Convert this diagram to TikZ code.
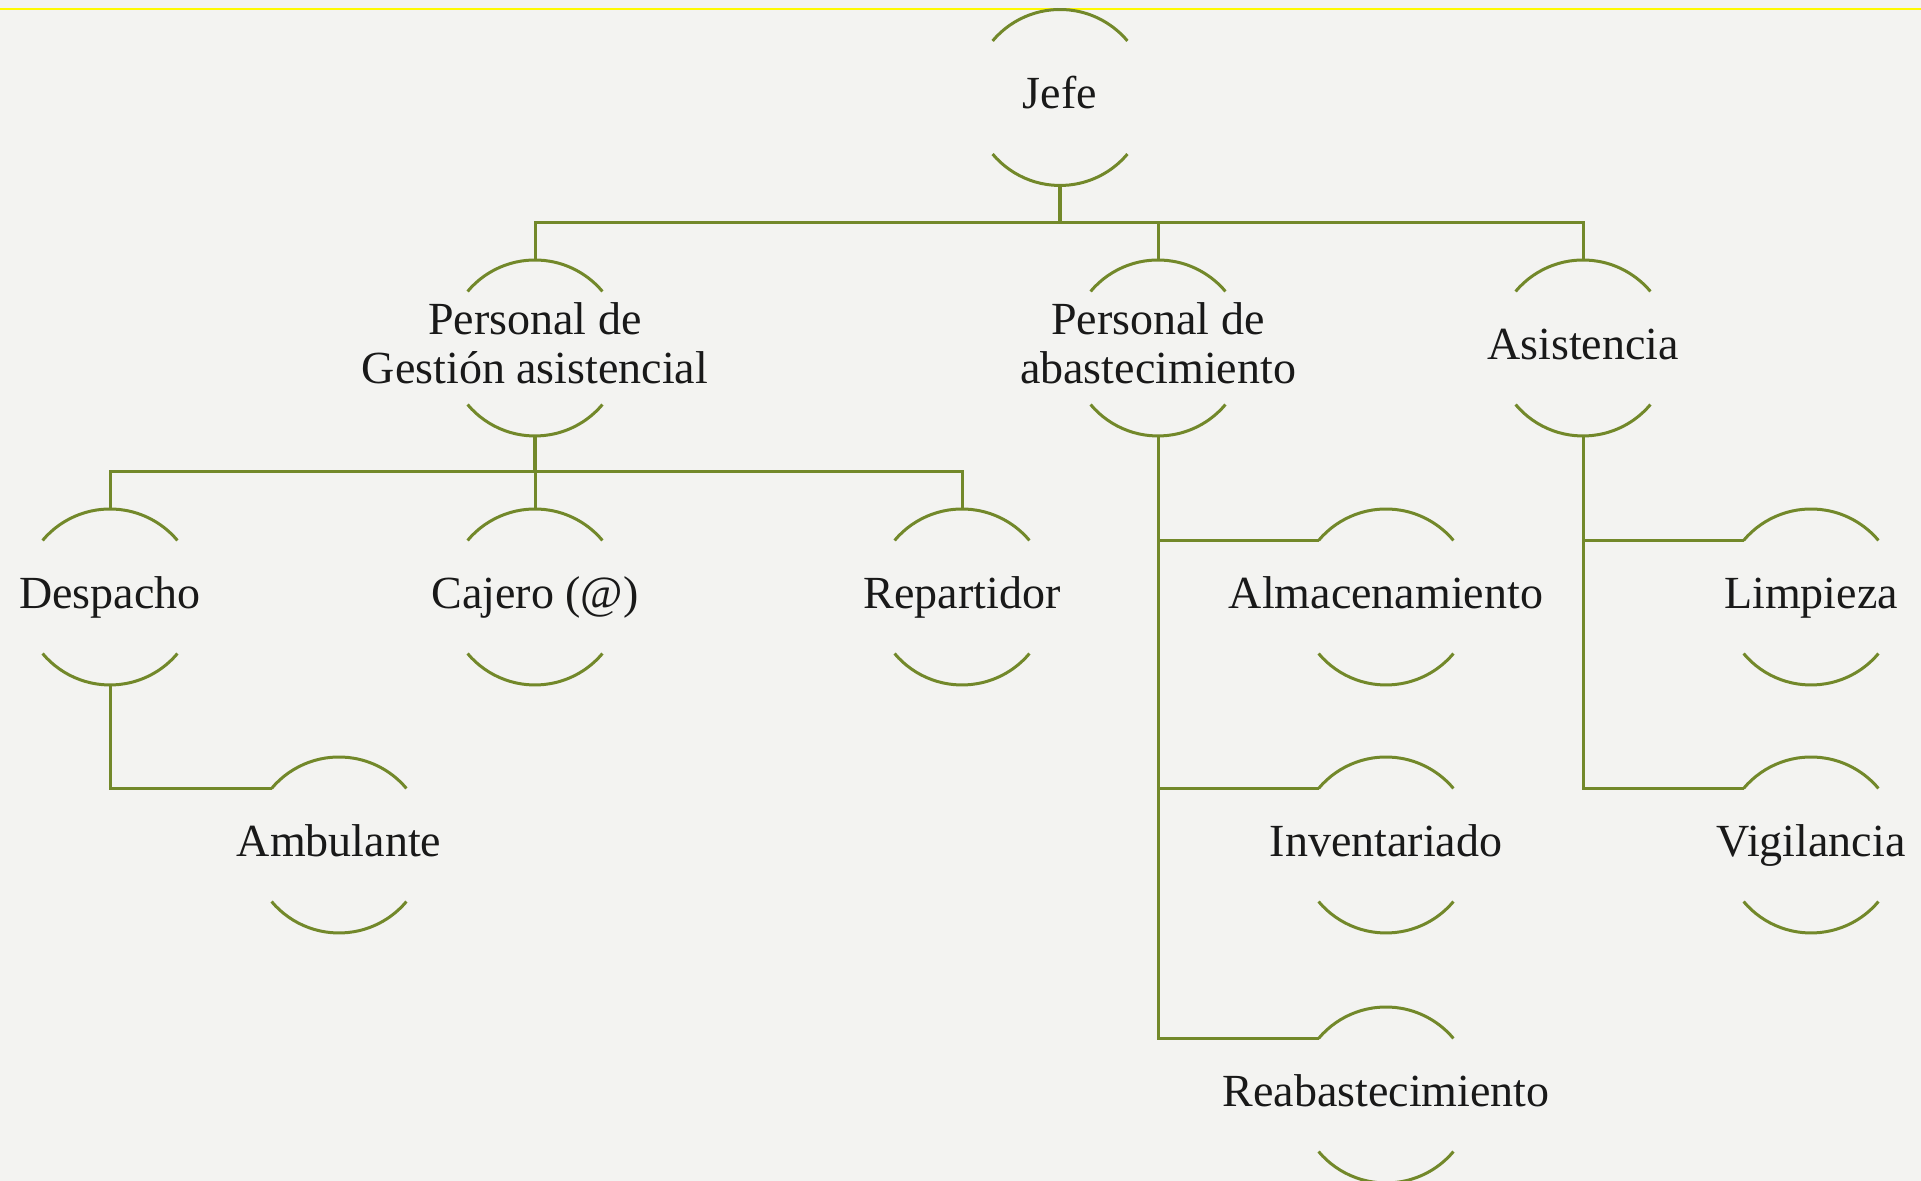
\documentclass[tikz,border=0pt]{standalone}
\usepackage{fontspec}
\setmainfont{Liberation Serif}
\usetikzlibrary{calc}
\definecolor{lineolive}{RGB}{114,136,42}
\definecolor{bgpaper}{RGB}{243,243,241}
\definecolor{textdark}{RGB}{25,25,25}
\definecolor{yellowline}{RGB}{255,250,0}
\begin{document}
\begin{tikzpicture}[x=0.5pt,y=0.5pt,
  ring/.style={circle,minimum size=88pt,inner sep=0pt,outer sep=0pt,draw=none},
  lbl/.style={font=\fontsize{23}{24.5}\selectfont,text=textdark,align=center,inner sep=0pt,anchor=base,yshift=-5.75pt},
  lbltwo/.style={font=\fontsize{23}{24.5}\selectfont,text=textdark,align=center,inner sep=0pt,yshift=2.3pt},
  rim/.style={draw=lineolive,line width=1.5pt},
  link/.style={draw=lineolive,line width=1.5pt}]
\fill[bgpaper] (0,0) rectangle (1921,1181);
\useasboundingbox (0,0) rectangle (1921,1181);
\draw[yellowline,line width=1.3pt] (0,1172) -- (1921,1172);

% nodes
\node[ring] (jefe) at (1060,1083.5) {};
\node[ring] (pga)  at (535,833) {};
\node[ring] (pab)  at (1158,833) {};
\node[ring] (asi)  at (1583,833) {};
\node[ring] (desp) at (110,584) {};
\node[ring] (caj)  at (535,584) {};
\node[ring] (rep)  at (962,584) {};
\node[ring] (amb)  at (339,336) {};
\node[ring] (alm)  at (1386,584) {};
\node[ring] (inv)  at (1386,336) {};
\node[ring] (reab) at (1386,86) {};
\node[ring] (limp) at (1811,584) {};
\node[ring] (vig)  at (1811,336) {};

\node[lbl] (tjefe) at (jefe) {Jefe};
\node[lbltwo] (tpga)  at (pga)  {Personal de\\Gestión asistencial};
\node[lbltwo] (tpab)  at (pab)  {Personal de\\abastecimiento};
\node[lbl] (tasi)  at (asi)  {Asistencia};
\node[lbl] (tdesp) at (desp) {Despacho};
\node[lbl] (tcaj)  at (caj)  {Cajero (@)};
\node[lbl] (trep)  at (rep)  {Repartidor};
\node[lbl] (tamb)  at (amb)  {Ambulante};
\node[lbl] (talm)  at (alm)  {Almacenamiento};
\node[lbl] (tinv)  at (inv)  {Inventariado};
\node[lbl] (treab) at (reab) {Reabastecimiento};
\node[lbl] (tlimp) at (limp) {Limpieza};
\node[lbl] (tvig)  at (vig)  {Vigilancia};

\foreach \n in {jefe,pga,pab,asi,desp,caj,rep,amb,alm,inv,reab,limp,vig} {
  \draw[rim] (\n.140) arc[start angle=140,end angle=40,radius=44pt];
  \draw[rim] (\n.220) arc[start angle=220,end angle=320,radius=44pt];
}

% connectors
\coordinate (bar1) at (0,958);
\coordinate (bar2) at (0,709);
\draw[link] (jefe.south) -- (jefe.south |- bar1) -| (pga.north);
\draw[link] (jefe.south) -- (jefe.south |- bar1) -| (pab.north);
\draw[link] (jefe.south) -- (jefe.south |- bar1) -| (asi.north);
\draw[link,line width=2.2pt] (jefe.south) -- (jefe.south |- bar1);
\draw[link] (pga.south) -- (pga.south |- bar2) -| (desp.north);
\draw[link] (pga.south) -- (pga.south |- bar2) -| (caj.north);
\draw[link] (pga.south) -- (pga.south |- bar2) -| (rep.north);
\draw[link,line width=2.2pt] (pga.south) -- (pga.south |- bar2);
\draw[link] (desp.south) |- (amb.140);
\draw[link] (pab.south) |- (alm.140);
\draw[link] (pab.south) |- (inv.140);
\draw[link] (pab.south) |- (reab.140);
\draw[link] (asi.south) |- (limp.140);
\draw[link] (asi.south) |- (vig.140);
\end{tikzpicture}
\end{document}
